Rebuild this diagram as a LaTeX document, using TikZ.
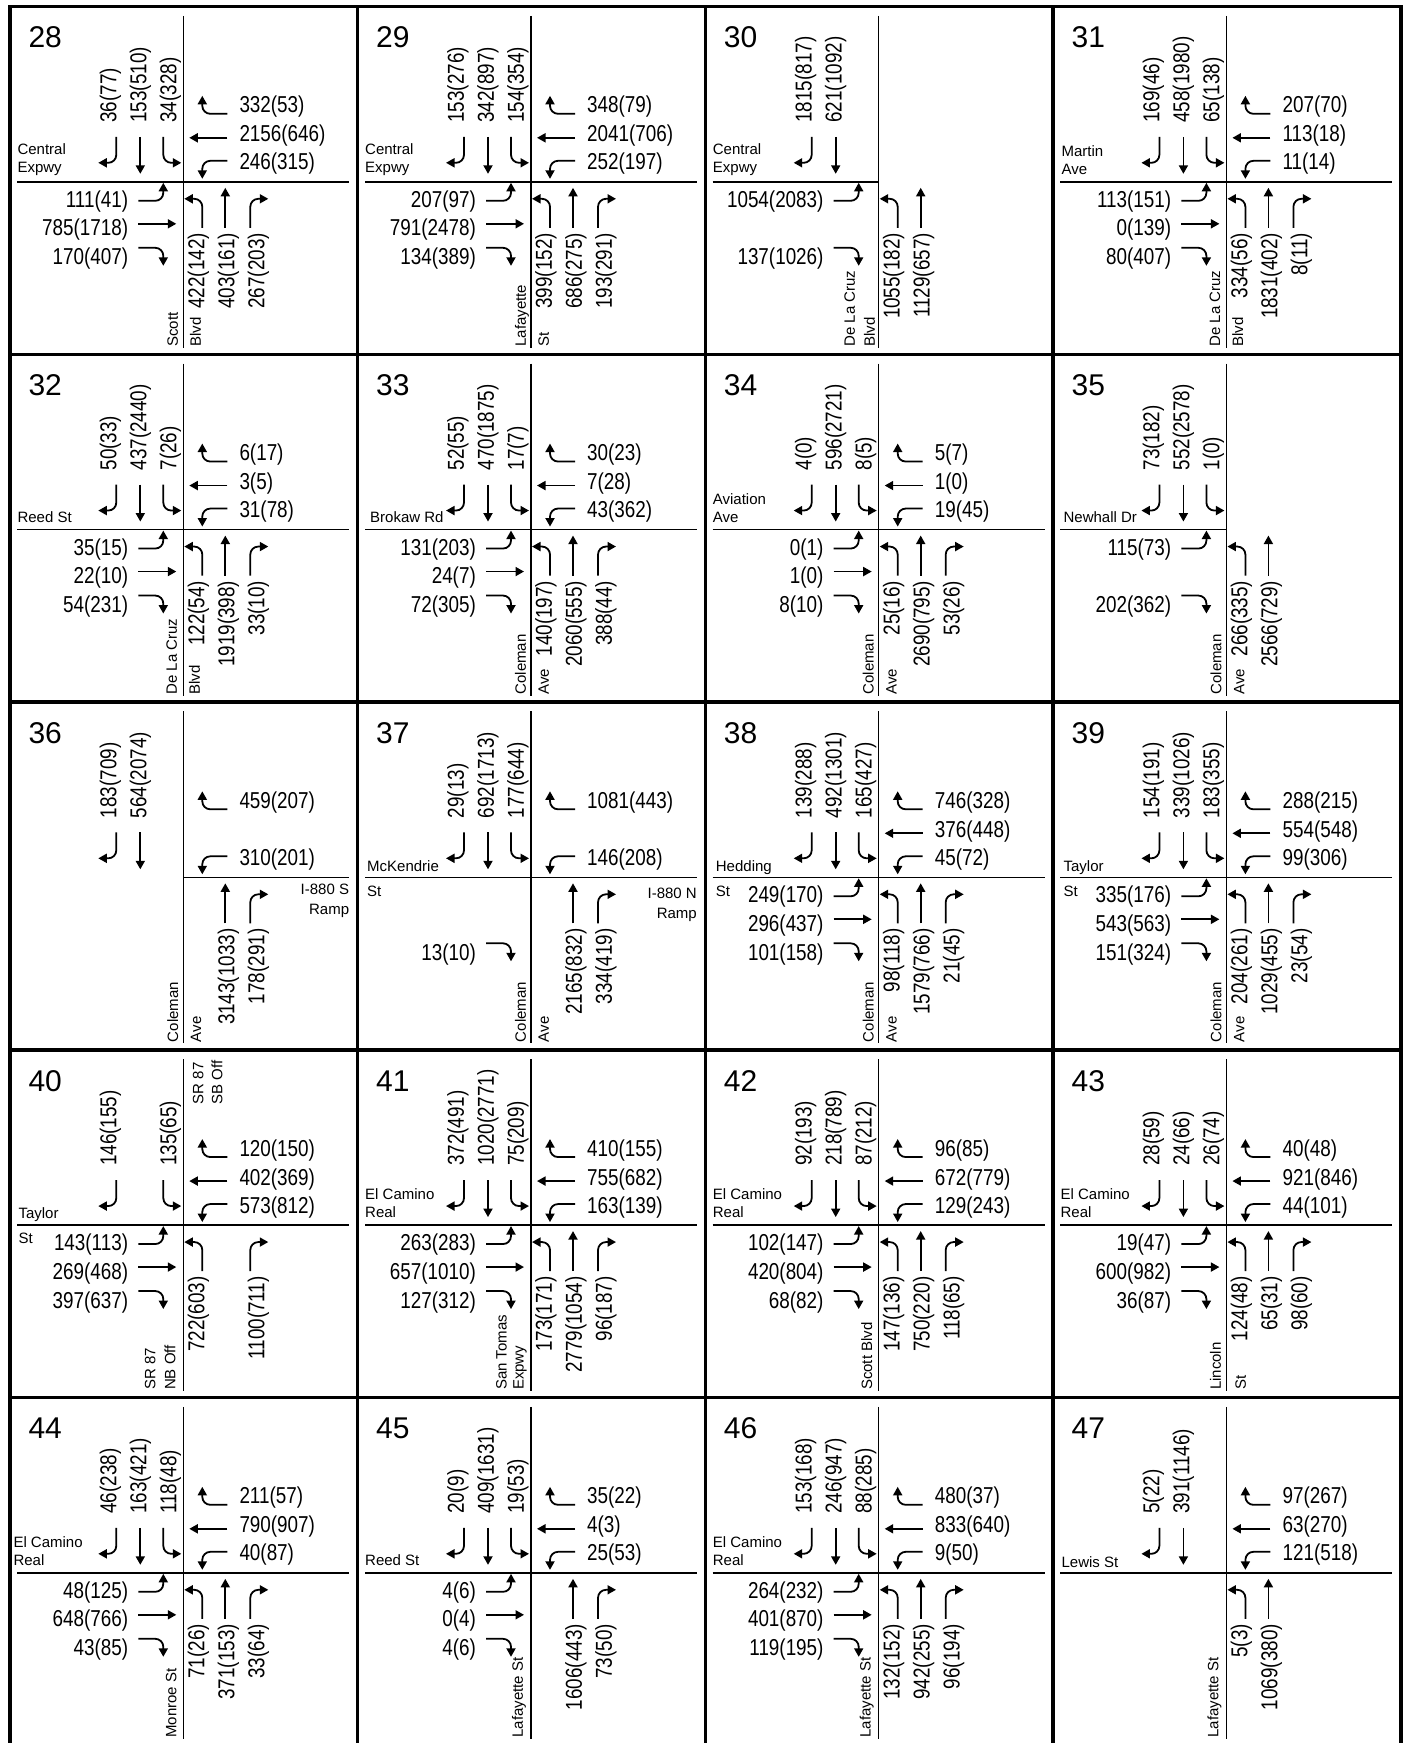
\documentclass[tikz,border=0pt]{standalone}
\usepackage{fontspec}
\setmainfont{Liberation Sans}
\newfontfamily\volfont[FakeStretch=0.82]{Liberation Sans}
\usepackage{tikz}
\usetikzlibrary{arrows.meta}

\tikzset{
  gridline/.style={line width=3.5pt, line cap=rect},
  street/.style={line width=1.4pt},
  turnarrow/.style={line width=1.8pt, rounded corners=8pt,
    -{Triangle[length=8.5pt, width=9pt]}},
  vol/.style={font=\volfont\fontsize{23}{24}\selectfont, inner sep=0pt},
  svol/.style={vol, rotate=90},
  stname/.style={font=\fontsize{15}{18}\selectfont, inner sep=0pt, align=left},
  hname/.style={stname, anchor=south west},
  xname/.style={stname, anchor=west, font=\fontsize{15}{25}\selectfont},
  vname/.style={stname, rotate=90, anchor=west, font=\fontsize{15}{23}\selectfont},
  rampname/.style={stname, align=right, anchor=north east, font=\fontsize{15}{20}\selectfont},
  pnum/.style={font=\fontsize{30}{32}\selectfont, inner sep=0pt, anchor=base west},
}

% one intersection, shifted to its centre: column, row, number
\newenvironment{junction}[3]{%
  \begin{scope}[shift={({183.3+347.7*#1},{181.8+347.75*#2})}]
  \def\pn{#3}%
  \node[pnum] (\pn-num) at (-155,-134) {#3};
}{\end{scope}}

% southbound
\newcommand{\SBr}[1]{\draw[turnarrow] (-67,-45) |- (-85,-19);
  \node[svol, anchor=west] (\pn-sbr) at (-73,-59) {#1};}
\newcommand{\SBt}[1]{\draw[turnarrow] (-43,-45) -- (-43,-8);
  \node[svol, anchor=west] (\pn-sbt) at (-43,-59) {#1};}
\newcommand{\SBl}[1]{\draw[turnarrow] (-20,-45) |- (-2,-19);
  \node[svol, anchor=west] (\pn-sbl) at (-13,-59) {#1};}
% westbound
\newcommand{\WBr}[1]{\draw[turnarrow] (44,-68) -| (19,-86);
  \node[vol, anchor=west] (\pn-wbr) at (56,-75) {#1};}
\newcommand{\WBt}[1]{\draw[turnarrow] (44,-44) -- (6,-44);
  \node[vol, anchor=west] (\pn-wbt) at (56,-46) {#1};}
\newcommand{\WBl}[1]{\draw[turnarrow] (44,-21) -| (19,-3);
  \node[vol, anchor=west] (\pn-wbl) at (56,-18) {#1};}
% eastbound
\newcommand{\EBl}[1]{\draw[turnarrow] (-45,19) -| (-20,1);
  \node[vol, anchor=east] (\pn-ebl) at (-55,19.5) {#1};}
\newcommand{\EBt}[1]{\draw[turnarrow] (-45,42) -- (-7,42);
  \node[vol, anchor=east] (\pn-ebt) at (-55,48) {#1};}
\newcommand{\EBr}[1]{\draw[turnarrow] (-45,66) -| (-20,84);
  \node[vol, anchor=east] (\pn-ebr) at (-55,77) {#1};}
% northbound
\newcommand{\NBl}[1]{\draw[turnarrow] (19,46) |- (1,17);
  \node[svol, anchor=east] (\pn-nbl) at (15,51) {#1};}
\newcommand{\NBt}[1]{\draw[turnarrow] (42,46) -- (42,6);
  \node[svol, anchor=east] (\pn-nbt) at (45,51) {#1};}
\newcommand{\NBr}[1]{\draw[turnarrow] (67,46) |- (85,17);
  \node[svol, anchor=east] (\pn-nbr) at (75,51) {#1};}

\begin{document}
\begin{tikzpicture}[x=1pt, y=-1pt]
  \useasboundingbox (0,0) rectangle (1406,1743);

  % table grid
  \foreach \gx in {10,357.7,705.4,1053.1,1400.8}
    \draw[gridline] (\gx,6.5) -- (\gx,1760);
  \foreach \gy in {6.5,354.25,702,1049.75,1397.5}
    \draw[gridline] (10,\gy) -- (1400.8,\gy);

  % row 1
  \begin{junction}{0}{0}{28}
    \draw[street] (0,-166) -- (0,166);
    \draw[street] (-166,0) -- (166,0);
    \SBr{36(77)}\SBt{153(510)}\SBl{34(328)}
    \WBr{332(53)}\WBt{2156(646)}\WBl{246(315)}
    \EBl{111(41)}\EBt{785(1718)}\EBr{170(407)}
    \NBl{422(142)}\NBt{403(161)}\NBr{267(203)}
    \node[hname] (28-ew) at (-166,-6) {Central\\Expwy};
    \node[vname] (28-ns) at (1,165) {Scott\\Blvd};
  \end{junction}

  \begin{junction}{1}{0}{29}
    \draw[street] (0,-166) -- (0,166);
    \draw[street] (-166,0) -- (166,0);
    \SBr{153(276)}\SBt{342(897)}\SBl{154(354)}
    \WBr{348(79)}\WBt{2041(706)}\WBl{252(197)}
    \EBl{207(97)}\EBt{791(2478)}\EBr{134(389)}
    \NBl{399(152)}\NBt{686(275)}\NBr{193(291)}
    \node[hname] (29-ew) at (-166,-6) {Central\\Expwy};
    \node[vname] (29-ns) at (1,165) {Lafayette\\St};
  \end{junction}

  \begin{junction}{2}{0}{30}
    \draw[street] (0,-166) -- (0,166);
    \draw[street] (-166,0) -- (0,0);
    \SBr{1815(817)}\SBt{621(1092)}
    \EBl{1054(2083)}\EBr{137(1026)}
    \NBl{1055(182)}\NBt{1129(657)}
    \node[hname] (30-ew) at (-166,-6) {Central\\Expwy};
    \node[vname, font=\fontsize{15}{20}\selectfont] (30-ns) at (-19,165) {De La Cruz\\Blvd};
  \end{junction}

  \begin{junction}{3}{0}{31}
    \draw[street] (0,-166) -- (0,166);
    \draw[street] (-166,0) -- (166,0);
    \SBr{169(46)}\SBt{458(1980)}\SBl{65(138)}
    \WBr{207(70)}\WBt{113(18)}\WBl{11(14)}
    \EBl{113(151)}\EBt{0(139)}\EBr{80(407)}
    \NBl{334(56)}\NBt{1831(402)}\NBr{8(11)}
    \node[hname] (31-ew) at (-165,-7) {Martin\\Ave};
    \node[vname] (31-ns) at (0,165) {De La Cruz\\Blvd};
  \end{junction}

  % row 2
  \begin{junction}{0}{1}{32}
    \draw[street] (0,-166) -- (0,166);
    \draw[street] (-166,0) -- (166,0);
    \SBr{50(33)}\SBt{437(2440)}\SBl{7(26)}
    \WBr{6(17)}\WBt{3(5)}\WBl{31(78)}
    \EBl{35(15)}\EBt{22(10)}\EBr{54(231)}
    \NBl{122(54)}\NBt{1919(398)}\NBr{33(10)}
    \node[hname] (32-ew) at (-166,-7) {Reed St};
    \node[vname] (32-ns) at (0,165) {De La Cruz\\Blvd};
  \end{junction}

  \begin{junction}{1}{1}{33}
    \draw[street] (0,-166) -- (0,166);
    \draw[street] (-166,0) -- (166,0);
    \SBr{52(55)}\SBt{470(1875)}\SBl{17(7)}
    \WBr{30(23)}\WBt{7(28)}\WBl{43(362)}
    \EBl{131(203)}\EBt{24(7)}\EBr{72(305)}
    \NBl{140(197)}\NBt{2060(555)}\NBr{388(44)}
    \node[hname] (33-ew) at (-161,-7) {Brokaw Rd};
    \node[vname] (33-ns) at (1,165) {Coleman\\Ave};
  \end{junction}

  \begin{junction}{2}{1}{34}
    \draw[street] (0,-166) -- (0,166);
    \draw[street] (-166,0) -- (166,0);
    \SBr{4(0)}\SBt{596(2721)}\SBl{8(5)}
    \WBr{5(7)}\WBt{1(0)}\WBl{19(45)}
    \EBl{0(1)}\EBt{1(0)}\EBr{8(10)}
    \NBl{25(16)}\NBt{2690(795)}\NBr{53(26)}
    \node[hname] (34-ew) at (-166,-7) {Aviation\\Ave};
    \node[vname] (34-ns) at (1,165) {Coleman\\Ave};
  \end{junction}

  \begin{junction}{3}{1}{35}
    \draw[street] (0,-166) -- (0,166);
    \draw[street] (-166,0) -- (0,0);
    \SBr{73(182)}\SBt{552(2578)}\SBl{1(0)}
    \EBl{115(73)}\EBr{202(362)}
    \NBl{266(335)}\NBt{2566(729)}
    \node[hname] (35-ew) at (-163,-7) {Newhall Dr};
    \node[vname] (35-ns) at (1,165) {Coleman\\Ave};
  \end{junction}

  % row 3
  \begin{junction}{0}{2}{36}
    \draw[street] (0,-166) -- (0,166);
    \draw[street] (0,0) -- (166,0);
    \SBr{183(709)}\SBt{564(2074)}
    \WBr{459(207)}\WBl{310(201)}
    \NBt{3143(1033)}\NBr{178(291)}
    \node[rampname] (36-ramp) at (166,7) {I-880 S\\Ramp};
    \node[vname] (36-ns) at (1,165) {Coleman\\Ave};
  \end{junction}

  \begin{junction}{1}{2}{37}
    \draw[street] (0,-166) -- (0,166);
    \draw[street] (-166,0) -- (166,0);
    \SBr{29(13)}\SBt{692(1713)}\SBl{177(644)}
    \WBr{1081(443)}\WBl{146(208)}
    \EBr{13(10)}
    \NBt{2165(832)}\NBr{334(419)}
    \node[xname] (37-ew) at (-164,1) {McKendrie\\St};
    \node[rampname] (37-ramp) at (166,11) {I-880 N\\Ramp};
    \node[vname] (37-ns) at (1,165) {Coleman\\Ave};
  \end{junction}

  \begin{junction}{2}{2}{38}
    \draw[street] (0,-166) -- (0,166);
    \draw[street] (-166,0) -- (166,0);
    \SBr{139(288)}\SBt{492(1301)}\SBl{165(427)}
    \WBr{746(328)}\WBt{376(448)}\WBl{45(72)}
    \EBl{249(170)}\EBt{296(437)}\EBr{101(158)}
    \NBl{98(118)}\NBt{1579(766)}\NBr{21(45)}
    \node[xname] (38-ew) at (-163,1) {Hedding\\St};
    \node[vname] (38-ns) at (1,165) {Coleman\\Ave};
  \end{junction}

  \begin{junction}{3}{2}{39}
    \draw[street] (0,-166) -- (0,166);
    \draw[street] (-166,0) -- (166,0);
    \SBr{154(191)}\SBt{339(1026)}\SBl{183(355)}
    \WBr{288(215)}\WBt{554(548)}\WBl{99(306)}
    \EBl{335(176)}\EBt{543(563)}\EBr{151(324)}
    \NBl{204(261)}\NBt{1029(455)}\NBr{23(54)}
    \node[xname] (39-ew) at (-163,1) {Taylor\\St};
    \node[vname] (39-ns) at (1,165) {Coleman\\Ave};
  \end{junction}

  % row 4
  \begin{junction}{0}{3}{40}
    \draw[street] (0,-166) -- (0,166);
    \draw[street] (-166,0) -- (166,0);
    \SBr{146(155)}\SBl{135(65)}
    \WBr{120(150)}\WBt{402(369)}\WBl{573(812)}
    \EBl{143(113)}\EBt{269(468)}\EBr{397(637)}
    \NBl{722(603)}\NBr{1100(711)}
    \node[xname] (40-ew) at (-165,1) {Taylor\\St};
    \node[vname, font=\fontsize{15}{20}\selectfont] (40-nb) at (-23,165) {SR 87\\NB Off};
    \node[vname, anchor=east, font=\fontsize{15}{19}\selectfont] (40-sb) at (24.5,-165) {SR 87\\SB Off};
  \end{junction}

  \begin{junction}{1}{3}{41}
    \draw[street] (0,-166) -- (0,166);
    \draw[street] (-166,0) -- (166,0);
    \SBr{372(491)}\SBt{1020(2771)}\SBl{75(209)}
    \WBr{410(155)}\WBt{755(682)}\WBl{163(139)}
    \EBl{263(283)}\EBt{657(1010)}\EBr{127(312)}
    \NBl{173(171)}\NBt{2779(1054)}\NBr{96(187)}
    \node[hname] (41-ew) at (-166,-7) {El Camino\\Real};
    \node[vname, font=\fontsize{15}{17}\selectfont] (41-ns) at (-19.5,165) {San Tomas\\Expwy};
  \end{junction}

  \begin{junction}{2}{3}{42}
    \draw[street] (0,-166) -- (0,166);
    \draw[street] (-166,0) -- (166,0);
    \SBr{92(193)}\SBt{218(789)}\SBl{87(212)}
    \WBr{96(85)}\WBt{672(779)}\WBl{129(243)}
    \EBl{102(147)}\EBt{420(804)}\EBr{68(82)}
    \NBl{147(136)}\NBt{750(220)}\NBr{118(65)}
    \node[hname] (42-ew) at (-166,-7) {El Camino\\Real};
    \node[vname] (42-ns) at (-12,165) {Scott Blvd};
  \end{junction}

  \begin{junction}{3}{3}{43}
    \draw[street] (0,-166) -- (0,166);
    \draw[street] (-166,0) -- (166,0);
    \SBr{28(59)}\SBt{24(66)}\SBl{26(74)}
    \WBr{40(48)}\WBt{921(846)}\WBl{44(101)}
    \EBl{19(47)}\EBt{600(982)}\EBr{36(87)}
    \NBl{124(48)}\NBt{65(31)}\NBr{98(60)}
    \node[hname] (43-ew) at (-166,-7) {El Camino\\Real};
    \node[vname, font=\fontsize{15}{25}\selectfont] (43-ns) at (1.5,165) {Lincoln\\St};
  \end{junction}

  % row 5
  \begin{junction}{0}{4}{44}
    \draw[street] (0,-166) -- (0,166);
    \draw[street] (-166,0) -- (166,0);
    \SBr{46(238)}\SBt{163(421)}\SBl{118(48)}
    \WBr{211(57)}\WBt{790(907)}\WBl{40(87)}
    \EBl{48(125)}\EBt{648(766)}\EBr{43(85)}
    \NBl{71(26)}\NBt{371(153)}\NBr{33(64)}
    \node[hname] (44-ew) at (-170,-7) {El Camino\\Real};
    \node[vname] (44-ns) at (-12,165) {Monroe St};
  \end{junction}

  \begin{junction}{1}{4}{45}
    \draw[street] (0,-166) -- (0,166);
    \draw[street] (-166,0) -- (166,0);
    \SBr{20(9)}\SBt{409(1631)}\SBl{19(53)}
    \WBr{35(22)}\WBt{4(3)}\WBl{25(53)}
    \EBl{4(6)}\EBt{0(4)}\EBr{4(6)}
    \NBt{1606(443)}\NBr{73(50)}
    \node[hname] (45-ew) at (-166,-7) {Reed St};
    \node[vname] (45-ns) at (-12,165) {Lafayette St};
  \end{junction}

  \begin{junction}{2}{4}{46}
    \draw[street] (0,-166) -- (0,166);
    \draw[street] (-166,0) -- (166,0);
    \SBr{153(168)}\SBt{246(947)}\SBl{88(285)}
    \WBr{480(37)}\WBt{833(640)}\WBl{9(50)}
    \EBl{264(232)}\EBt{401(870)}\EBr{119(195)}
    \NBl{132(152)}\NBt{942(255)}\NBr{96(194)}
    \node[hname] (46-ew) at (-166,-7) {El Camino\\Real};
    \node[vname] (46-ns) at (-12,165) {Lafayette St};
  \end{junction}

  \begin{junction}{3}{4}{47}
    \draw[street] (0,-166) -- (0,166);
    \draw[street] (-166,0) -- (166,0);
    \SBr{5(22)}\SBt{391(1146)}
    \WBr{97(267)}\WBt{63(270)}\WBl{121(518)}
    \NBl{5(3)}\NBt{1069(380)}
    \node[hname] (47-ew) at (-165,-5) {Lewis St};
    \node[vname] (47-ns) at (-12,165) {Lafayette St};
  \end{junction}
\end{tikzpicture}
\end{document}
